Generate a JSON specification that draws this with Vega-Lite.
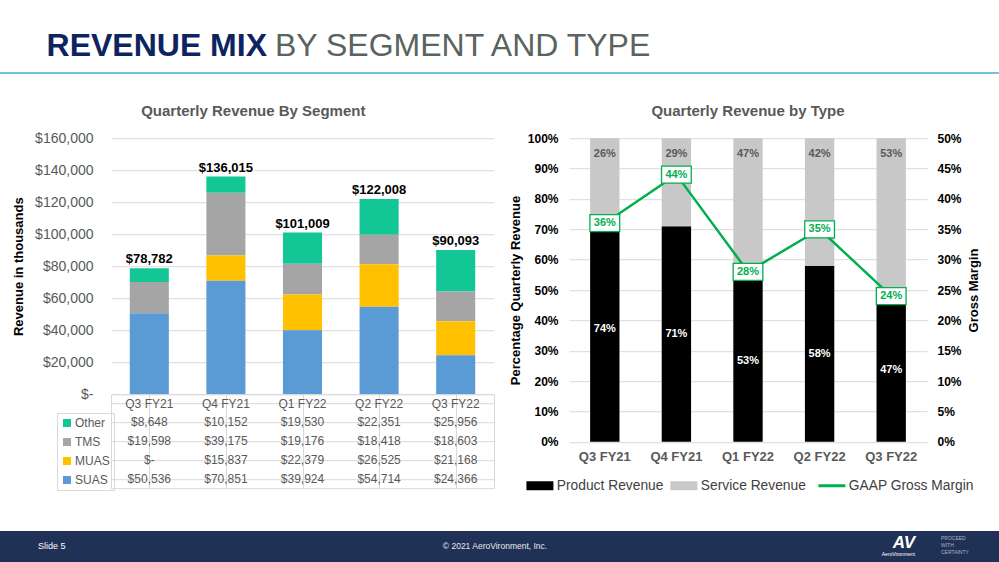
{
  "$schema": "https://vega.github.io/schema/vega-lite/v6.json",
  "background": "white",
  "padding": {"left": 0, "top": 30, "right": 0, "bottom": 0},
  "config": {
    "font": "Liberation Sans",
    "view": {"stroke": null},
    "concat": {"spacing": 0},
    "title": {"font": "Liberation Sans"},
    "axis": {"labelFont": "Liberation Sans", "titleFont": "Liberation Sans"},
    "legend": {"labelFont": "Liberation Sans"}
  },
  "datasets": {
    "seg": [
      {"q": "Q3 FY21", "seg": "Other", "v": 8648},
      {"q": "Q3 FY21", "seg": "TMS", "v": 19598},
      {"q": "Q3 FY21", "seg": "MUAS", "v": 0},
      {"q": "Q3 FY21", "seg": "SUAS", "v": 50536},
      {"q": "Q4 FY21", "seg": "Other", "v": 10152},
      {"q": "Q4 FY21", "seg": "TMS", "v": 39175},
      {"q": "Q4 FY21", "seg": "MUAS", "v": 15837},
      {"q": "Q4 FY21", "seg": "SUAS", "v": 70851},
      {"q": "Q1 FY22", "seg": "Other", "v": 19530},
      {"q": "Q1 FY22", "seg": "TMS", "v": 19176},
      {"q": "Q1 FY22", "seg": "MUAS", "v": 22379},
      {"q": "Q1 FY22", "seg": "SUAS", "v": 39924},
      {"q": "Q2 FY22", "seg": "Other", "v": 22351},
      {"q": "Q2 FY22", "seg": "TMS", "v": 18418},
      {"q": "Q2 FY22", "seg": "MUAS", "v": 26525},
      {"q": "Q2 FY22", "seg": "SUAS", "v": 54714},
      {"q": "Q3 FY22", "seg": "Other", "v": 25956},
      {"q": "Q3 FY22", "seg": "TMS", "v": 18603},
      {"q": "Q3 FY22", "seg": "MUAS", "v": 21168},
      {"q": "Q3 FY22", "seg": "SUAS", "v": 24366}
    ],
    "types": [
      {"q": "Q3 FY21", "type": "Product Revenue", "v": 0.74},
      {"q": "Q3 FY21", "type": "Service Revenue", "v": 0.26},
      {"q": "Q4 FY21", "type": "Product Revenue", "v": 0.71},
      {"q": "Q4 FY21", "type": "Service Revenue", "v": 0.29},
      {"q": "Q1 FY22", "type": "Product Revenue", "v": 0.53},
      {"q": "Q1 FY22", "type": "Service Revenue", "v": 0.47},
      {"q": "Q2 FY22", "type": "Product Revenue", "v": 0.58},
      {"q": "Q2 FY22", "type": "Service Revenue", "v": 0.42},
      {"q": "Q3 FY22", "type": "Product Revenue", "v": 0.47},
      {"q": "Q3 FY22", "type": "Service Revenue", "v": 0.53}
    ],
    "margin": [
      {"q": "Q3 FY21", "m": 0.36},
      {"q": "Q4 FY21", "m": 0.44},
      {"q": "Q1 FY22", "m": 0.28},
      {"q": "Q2 FY22", "m": 0.35},
      {"q": "Q3 FY22", "m": 0.24}
    ]
  },
  "resolve": {"scale": {"color": "independent"}, "legend": {"color": "independent"}},
  "spacing": 38,
  "vconcat": [
    {
      "spacing": 30.2,
      "resolve": {"scale": {"color": "independent"}, "legend": {"color": "independent"}},
      "vconcat": [
        {
          "spacing": 0,
          "hconcat": [
            {
              "width": 267, "height": 2,
              "view": {"fill": "#6ec4da", "stroke": null},
              "data": {"values": []},
              "mark": {"type": "point"},
              "encoding": {},
              "title": {"text": "REVENUE MIX", "anchor": "end", "frame": "group", "fontSize": 32, "fontWeight": "bold", "color": "#0d2461", "offset": 9}
            },
            {
              "width": 732, "height": 2,
              "view": {"fill": "#6ec4da", "stroke": null},
              "data": {"values": []},
              "mark": {"type": "point"},
              "encoding": {},
              "title": {"text": "BY SEGMENT AND TYPE", "anchor": "start", "frame": "group", "dx": 8, "fontSize": 32, "fontWeight": "normal", "color": "#59645f", "offset": 9}
            }
          ]
        },
        {
          "spacing": 0,
          "resolve": {"scale": {"color": "independent"}, "legend": {"color": "independent"}},
          "hconcat": [
            {
              "width": 12, "height": 1,
              "data": {"values": []},
              "mark": {"type": "point"},
              "encoding": {}
            },
            {
              "spacing": 14,
              "resolve": {"scale": {"color": "independent"}, "legend": {"color": "independent"}},
              "hconcat": [
                {
                  "spacing": 0,
                  "bounds": "flush",
                  "resolve": {"scale": {"color": "independent"}, "legend": {"color": "independent"}},
                  "vconcat": [
                    {
                      "width": 383, "height": 256,
                      "title": {"text": "Quarterly Revenue By Segment", "fontSize": 15, "fontWeight": "bold", "color": "#595959", "frame": "bounds", "anchor": "middle", "offset": 12},
                      "data": {"name": "seg"},
                      "transform": [{"calculate": "indexof(['SUAS','MUAS','TMS','Other'], datum.seg)", "as": "ord"}],
                      "layer": [
                        {
                          "mark": {"type": "bar"},
                          "encoding": {
                            "x": {"field": "q", "type": "nominal", "scale": {"domain": ["Q3 FY21", "Q4 FY21", "Q1 FY22", "Q2 FY22", "Q3 FY22"], "paddingInner": 0.49, "paddingOuter": 0.245}, "axis": null},
                            "y": {"field": "v", "type": "quantitative", "stack": "zero", "scale": {"domain": [0, 160000]},
                              "axis": {"title": "Revenue in thousands", "titleFontSize": 13, "titleFontWeight": "bold", "titleColor": "#000000", "titlePadding": 9,
                                "labelFontSize": 14, "labelColor": "#595959", "labelExpr": "datum.value === 0 ? '$-' : format(datum.value, '$,.0f')", "labelOverlap": false,
                                "values": [0, 20000, 40000, 60000, 80000, 100000, 120000, 140000, 160000], "ticks": false, "domain": false, "labelPadding": 18, "gridColor": "#d9d9d9"}},
                            "color": {"field": "seg", "type": "nominal", "scale": {"domain": ["Other", "TMS", "MUAS", "SUAS"], "range": ["#12c795", "#a5a5a5", "#ffc000", "#5b9bd5"]}, "legend": null},
                            "order": {"field": "ord", "type": "quantitative"}
                          }
                        },
                        {
                          "transform": [{"aggregate": [{"op": "sum", "field": "v", "as": "total"}], "groupby": ["q"]}],
                          "mark": {"type": "text", "fontWeight": "bold", "fontSize": 13, "baseline": "bottom", "dy": -2, "color": "#000000"},
                          "encoding": {
                            "x": {"field": "q", "type": "nominal"},
                            "y": {"field": "total", "type": "quantitative",
                              "axis": {"title": "Revenue in thousands", "titleFontSize": 13, "titleFontWeight": "bold", "titleColor": "#000000", "titlePadding": 9,
                                "labelFontSize": 14, "labelColor": "#595959", "labelExpr": "datum.value === 0 ? '$-' : format(datum.value, '$,.0f')", "labelOverlap": false,
                                "values": [0, 20000, 40000, 60000, 80000, 100000, 120000, 140000, 160000], "ticks": false, "domain": false, "labelPadding": 18, "gridColor": "#d9d9d9"}},
                            "text": {"field": "total", "type": "quantitative", "format": "$,.0f"}
                          }
                        }
                      ]
                    },
                    {
                      "width": 383, "height": 94,
                      "view": {"stroke": "#d9d9d9"},
                      "data": {"name": "seg"},
                      "layer": [
                        {
                          "transform": [{"calculate": "datum.v === 0 ? '$-' : format(datum.v, '$,.0f')", "as": "lbl"}],
                          "mark": {"type": "text", "fontSize": 12, "color": "#595959"},
                          "encoding": {
                            "x": {"field": "q", "type": "nominal", "scale": {"domain": ["Q3 FY21", "Q4 FY21", "Q1 FY22", "Q2 FY22", "Q3 FY22"], "paddingInner": 0, "paddingOuter": 0},
                              "axis": {"grid": true, "bandPosition": 0, "labels": false, "ticks": false, "domain": false, "title": null, "gridColor": "#d9d9d9"}},
                            "y": {"field": "seg", "type": "nominal", "scale": {"domain": ["hdr", "Other", "TMS", "MUAS", "SUAS"], "paddingInner": 0, "paddingOuter": 0},
                              "axis": {"grid": true, "bandPosition": 0, "labels": false, "ticks": false, "domain": false, "title": null, "gridColor": "#d9d9d9"}},
                            "text": {"field": "lbl"}
                          }
                        },
                        {
                          "transform": [{"filter": "datum.seg === 'SUAS'"}],
                          "mark": {"type": "text", "fontSize": 12, "color": "#595959"},
                          "encoding": {
                            "x": {"field": "q", "type": "nominal"},
                            "y": {"datum": "hdr", "type": "nominal"},
                            "text": {"field": "q"}
                          }
                        },
                        {
                          "mark": {"type": "square", "opacity": 0},
                          "encoding": {
                            "x": {"field": "q", "type": "nominal"},
                            "y": {"field": "seg", "type": "nominal"},
                            "color": {"field": "seg", "type": "nominal", "scale": {"domain": ["Other", "TMS", "MUAS", "SUAS"], "range": ["#12c795", "#a5a5a5", "#ffc000", "#5b9bd5"]},
                              "legend": {"orient": "none", "legendX": -54, "legendY": 18.8, "padding": 4, "strokeColor": "#d9d9d9", "title": null, "symbolType": "square", "symbolSize": 64, "symbolOpacity": 1, "symbolStrokeWidth": 0,
                                "labelFontSize": 12, "labelColor": "#595959", "rowPadding": 7, "labelOffset": 2}}
                          }
                        }
                      ]
                    }
                  ]
                },
                {
                  "width": 358, "height": 303.6,
                  "title": {"text": "Quarterly Revenue by Type", "fontSize": 15, "fontWeight": "bold", "color": "#595959", "anchor": "middle", "offset": 13},
                  "resolve": {"scale": {"y": "independent"}},
                  "layer": [
                    {
                      "data": {"name": "types"},
                      "transform": [{"calculate": "datum.type === 'Product Revenue' ? 0 : 1", "as": "ord"}],
                      "encoding": {
                        "x": {"field": "q", "type": "nominal", "scale": {"domain": ["Q3 FY21", "Q4 FY21", "Q1 FY22", "Q2 FY22", "Q3 FY22"], "paddingInner": 0.59, "paddingOuter": 0.295},
                          "axis": {"title": null, "labelFontSize": 13, "labelFontWeight": "bold", "labelColor": "#595959", "ticks": false, "domain": false, "labelPadding": 9, "labelAngle": 0}}
                      },
                      "layer": [
                        {
                          "mark": {"type": "bar"},
                          "encoding": {
                            "y": {"field": "v", "type": "quantitative", "stack": "zero", "scale": {"domain": [0, 1]},
                              "axis": {"title": "Percentage Quarterly  Revenue", "titleFontSize": 13, "titleFontWeight": "bold", "titleColor": "#000000", "titlePadding": 5,
                                "values": [0, 0.1, 0.2, 0.3, 0.4, 0.5, 0.6, 0.7, 0.8, 0.9, 1], "format": ".0%", "labelFontSize": 12, "labelFontWeight": "bold", "labelColor": "#000000", "labelOverlap": false,
                                "ticks": false, "domain": false, "labelPadding": 11, "gridColor": "#d9d9d9"}},
                            "color": {"field": "type", "type": "nominal", "scale": {"domain": ["Product Revenue", "Service Revenue", "GAAP Gross Margin"], "range": ["#000000", "#c8c8c8", "#00b050"]},
                              "legend": {"orient": "none", "legendX": -36, "legendY": 340.5, "direction": "horizontal", "title": null, "symbolSize": 729, "labelFontSize": 13.8, "labelColor": "#404040",
                                "columnPadding": 6, "labelOffset": 10, "symbolStrokeWidth": 0,
                                "encode": {"symbols": {"update": {
                                  "shape": {"signal": "datum.value === 'GAAP Gross Margin' ? 'M-1,0H1' : 'M-1,-0.333H1V0.333H-1Z'"},
                                  "fill": {"signal": "datum.value === 'GAAP Gross Margin' ? 'transparent' : (datum.value === 'Product Revenue' ? '#000000' : '#c8c8c8')"},
                                  "stroke": {"signal": "datum.value === 'GAAP Gross Margin' ? '#00b050' : 'transparent'"},
                                  "strokeWidth": {"signal": "datum.value === 'GAAP Gross Margin' ? 3 : 0"},
                                  "opacity": {"value": 1}
                                }}}}},
                            "order": {"field": "ord", "type": "quantitative"}
                          }
                        },
                        {
                          "transform": [{"filter": "datum.type === 'Product Revenue'"}, {"calculate": "datum.v / 2", "as": "mid"}],
                          "mark": {"type": "text", "fontSize": 11, "fontWeight": "bold", "color": "#ffffff"},
                          "encoding": {
                            "y": {"field": "mid", "type": "quantitative",
                              "axis": {"title": "Percentage Quarterly  Revenue", "titleFontSize": 13, "titleFontWeight": "bold", "titleColor": "#000000", "titlePadding": 5,
                                "values": [0, 0.1, 0.2, 0.3, 0.4, 0.5, 0.6, 0.7, 0.8, 0.9, 1], "format": ".0%", "labelFontSize": 12, "labelFontWeight": "bold", "labelColor": "#000000", "labelOverlap": false,
                                "ticks": false, "domain": false, "labelPadding": 11, "gridColor": "#d9d9d9"}},
                            "text": {"field": "v", "type": "quantitative", "format": ".0%"}
                          }
                        },
                        {
                          "transform": [{"filter": "datum.type === 'Service Revenue'"}],
                          "mark": {"type": "text", "fontSize": 11, "fontWeight": "bold", "color": "#595959", "dy": 16},
                          "encoding": {
                            "y": {"datum": 1, "type": "quantitative",
                              "axis": {"title": "Percentage Quarterly  Revenue", "titleFontSize": 13, "titleFontWeight": "bold", "titleColor": "#000000", "titlePadding": 5,
                                "values": [0, 0.1, 0.2, 0.3, 0.4, 0.5, 0.6, 0.7, 0.8, 0.9, 1], "format": ".0%", "labelFontSize": 12, "labelFontWeight": "bold", "labelColor": "#000000", "labelOverlap": false,
                                "ticks": false, "domain": false, "labelPadding": 11, "gridColor": "#d9d9d9"}},
                            "text": {"field": "v", "type": "quantitative", "format": ".0%"}
                          }
                        }
                      ]
                    },
                    {
                      "data": {"name": "margin"},
                      "encoding": {
                        "x": {"field": "q", "type": "nominal"},
                        "y": {"field": "m", "type": "quantitative", "scale": {"domain": [0, 0.5]},
                          "axis": {"orient": "right", "values": [0, 0.05, 0.1, 0.15, 0.2, 0.25, 0.3, 0.35, 0.4, 0.45, 0.5], "format": ".0%", "labelFontSize": 12, "labelFontWeight": "bold", "labelColor": "#000000", "labelOverlap": false,
                            "ticks": false, "domain": false, "grid": false, "labelPadding": 10, "title": "Gross Margin", "titleAngle": 270, "titleBaseline": "top", "titleFontSize": 13, "titleFontWeight": "bold", "titleColor": "#000000", "titlePadding": 6}}
                      },
                      "layer": [
                        {"mark": {"type": "line", "color": "#00b050", "strokeWidth": 2.5}},
                        {"mark": {"type": "point", "shape": "M-1.75,-1H1.75V1H-1.75Z", "size": 289, "filled": true, "fill": "#ffffff", "stroke": "#00b050", "strokeWidth": 1.3, "opacity": 1}},
                        {"mark": {"type": "text", "fontSize": 11, "fontWeight": "bold", "color": "#00b050"}, "encoding": {"text": {"field": "m", "type": "quantitative", "format": ".0%"}}}
                      ]
                    }
                  ]
                }
              ]
            }
          ]
        }
      ]
    },
    {
      "spacing": 0,
      "hconcat": [
        {
          "width": 300, "height": 31,
          "view": {"fill": "#1f3154", "stroke": null},
          "data": {"values": []},
          "mark": {"type": "point"},
          "encoding": {},
          "title": {"text": "Slide 5", "orient": "bottom", "anchor": "start", "frame": "group", "dx": 38, "offset": -20, "fontSize": 9, "fontWeight": "normal", "color": "#ffffff"}
        },
        {
          "width": 390, "height": 31,
          "view": {"fill": "#1f3154", "stroke": null},
          "data": {"values": []},
          "mark": {"type": "point"},
          "encoding": {},
          "title": {"text": "© 2021 AeroVironment, Inc.", "orient": "bottom", "anchor": "middle", "frame": "group", "offset": -20, "fontSize": 8.5, "fontWeight": "normal", "color": "#e6e9ef"}
        },
        {
          "width": 245, "height": 31,
          "view": {"fill": "#1f3154", "stroke": null},
          "data": {"values": []},
          "mark": {"type": "point"},
          "encoding": {},
          "title": {"text": "AV", "subtitle": "AeroVironment", "orient": "bottom", "anchor": "end", "frame": "group", "dx": -20, "offset": -27, "fontSize": 17, "fontWeight": 900, "fontStyle": "italic", "color": "#ffffff", "subtitleFontSize": 5, "subtitleColor": "#ffffff", "subtitlePadding": 0}
        },
        {
          "width": 64, "height": 31,
          "view": {"fill": "#1f3154", "stroke": null},
          "data": {"values": []},
          "mark": {"type": "point"},
          "encoding": {},
          "title": {"text": ["PROCEED", "WITH", "CERTAINTY"], "orient": "bottom", "anchor": "start", "frame": "group", "dx": 6, "offset": -26, "fontSize": 5, "lineHeight": 7, "fontWeight": "normal", "color": "#aab4c8"}
        }
      ]
    }
  ]
}
